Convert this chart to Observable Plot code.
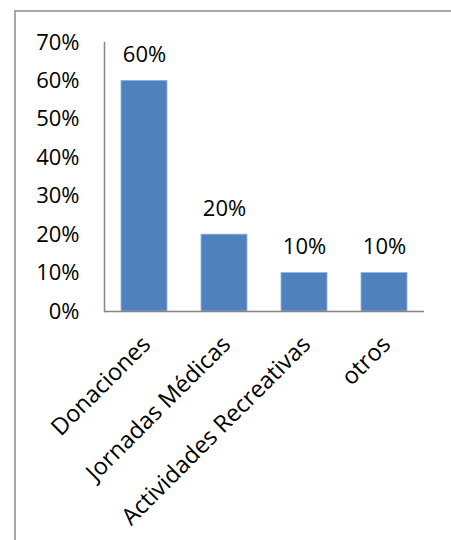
<!DOCTYPE html>
<html>
<head>
<meta charset="utf-8">
<script src="https://cdn.jsdelivr.net/npm/d3@7"></script>
<script src="https://cdn.jsdelivr.net/npm/@observablehq/plot@0.6"></script>
<style>
  html, body { margin: 0; padding: 0; background: #fff; overflow: hidden; width: 451px; height: 540px; }
  #frame { position: absolute; left: 14px; top: 10px; width: 600px; height: 700px;
           border-left: 2px solid #a6a6a6; border-top: 2px solid #a6a6a6; background: #fff; }
  #chart { position: absolute; left: 0; top: 0; }
</style>
</head>
<body>
<div id="frame"><div id="chart"></div></div>
<script>
const categories = ["Donaciones", "Jornadas Médicas", "Actividades Recreativas", "otros"];
const values = [0.60, 0.20, 0.10, 0.10];
const yTicks = [0, 0.1, 0.2, 0.3, 0.4, 0.5, 0.6, 0.7];

const data = categories.map((c, i) => ({category: c, value: values[i]}));
const font = "'Open Sans', sans-serif";

const chart = Plot.plot({
  width: 424 - 16 + 40,
  height: 528,
  marginLeft: 88,
  marginRight: 40,
  marginTop: 30,
  marginBottom: 229,
  style: {fontFamily: font, fontSize: "22px", color: "#000", background: "transparent", overflow: "visible"},
  x: {domain: categories, paddingInner: 0.425, paddingOuter: 0.2125, label: null},
  y: {domain: [0, 0.7], label: null},
  marks: [
    Plot.barY(data, {x: "category", y: "value", fill: "#4F81BD", stroke: "#8EB4E3", strokeWidth: 0.8}),
    Plot.axisY({ticks: yTicks, tickFormat: d3.format(".0%"), tickSize: 0, tickPadding: 25, label: null,
                fontSize: 22, fill: "#000"}),
    Plot.frame({anchor: "left", stroke: "#868686", strokeWidth: 1.5}),
    Plot.ruleY([0], {stroke: "#868686", strokeWidth: 1.5}),
    Plot.axisX({tickSize: 0, tickPadding: 29, dx: 2, tickRotate: -45, label: null, fontSize: 23.5, fill: "#000"}),
    Plot.text(data, {x: "category", y: "value", text: d => d3.format(".0%")(d.value),
                     dy: -26, fontSize: 22, fill: "#000", lineAnchor: "middle"})
  ]
});
document.getElementById("chart").appendChild(chart);
</script>
</body>
</html>
